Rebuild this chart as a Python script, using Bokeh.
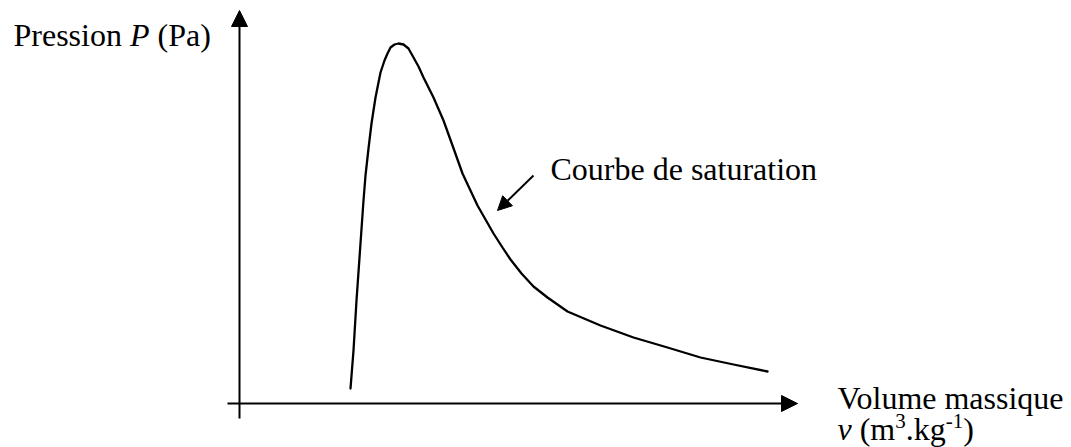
from bokeh.plotting import figure
from bokeh.models import Range1d, Arrow, NormalHead, Label
from bokeh.embed import file_html
from bokeh.resources import INLINE

# Saturation curve (schematic), v measured from origin, P measured from origin
v_left = [111, 114, 117, 124, 126, 129, 132, 136, 141, 145, 148, 151, 155, 159]
P_left = [15, 53, 103, 203, 228, 255, 280, 306, 331, 343, 350, 356, 359, 360]
v_right = [164, 169, 174, 179, 184, 194, 204, 213, 223, 238, 254, 263, 271, 282, 294,
           308, 328, 361, 394, 428, 461, 494, 528]
P_right = [359, 355, 346, 337, 326, 306, 283, 258, 230, 198, 170, 156, 144, 130, 117,
           106, 92, 78, 66, 56, 46, 39, 32]

annotation = "Courbe de saturation"
x_label_1 = "Volume massique"

FONT = "Liberation Serif"
FS = 32
SUP = 21

W = {'P': 0.556, 'r': 0.333, 'e': 0.444, 's': 0.389, 'i': 0.278, 'o': 0.5, 'n': 0.5,
     ' ': 0.25, '(': 0.333, 'a': 0.444, ')': 0.333, 'm': 0.778, '.': 0.25, 'k': 0.5,
     'g': 0.5, '3': 0.5, '-': 0.333, '1': 0.5, 'v': 0.444}
WI = {'P': 0.611, 'v': 0.444}


def width(t, size, italic=False):
    tab = WI if italic else W
    return sum(tab.get(c, W.get(c, 0.5)) for c in t) * size


p = figure(width=1071, height=447, output_backend="svg", toolbar_location=None,
           x_range=Range1d(-239, 832), y_range=Range1d(-44, 403), min_border=0)
p.axis.visible = False
p.grid.visible = False
p.outline_line_color = None
p.background_fill_color = "white"
p.border_fill_color = "white"

# axes as arrows
p.add_layout(Arrow(end=NormalHead(size=16, fill_color="black", line_color="black"),
                   x_start=0, y_start=-15, x_end=0, y_end=393,
                   line_width=2, line_color="black"))
p.add_layout(Arrow(end=NormalHead(size=16, fill_color="black", line_color="black"),
                   x_start=-12, y_start=0, x_end=558, y_end=0,
                   line_width=2, line_color="black"))

# curve
p.line(v_left + v_right, P_left + P_right, line_width=2.3, line_color="black",
       line_join="round", line_cap="round")

# annotation arrow
p.add_layout(Arrow(end=NormalHead(size=14, fill_color="black", line_color="black"),
                   x_start=294, y_start=228, x_end=258, y_end=193,
                   line_width=2, line_color="black"))


def place(x0, y0, pieces):
    x = x0
    for t, size, italic, dy in pieces:
        lead = len(t) - len(t.lstrip(" "))
        x += lead * W[' '] * size
        body = t.strip(" ")
        if body:
            p.add_layout(Label(x=x, y=y0 + dy, text=body, text_font=FONT,
                               text_font_size=f"{size}px",
                               text_font_style="italic" if italic else "normal",
                               text_color="black", text_baseline="alphabetic",
                               text_align="left"))
        x += width(t.lstrip(" "), size, italic)


place(-226, 369, [("Pression", FS, False, 0), (" P", FS, True, 0), (" (Pa)", FS, False, 0)])
place(311, 235, [(annotation, FS, False, 0)])
place(598, 6, [(x_label_1, FS, False, 0)])
place(598, -25, [("v", FS, True, 0), (" (m", FS, False, 0), ("3", SUP, False, 8),
                 (".kg", FS, False, 0), ("-1", SUP, False, 8), (")", FS, False, 0)])

open("out.html", "w").write(file_html(p, INLINE))
